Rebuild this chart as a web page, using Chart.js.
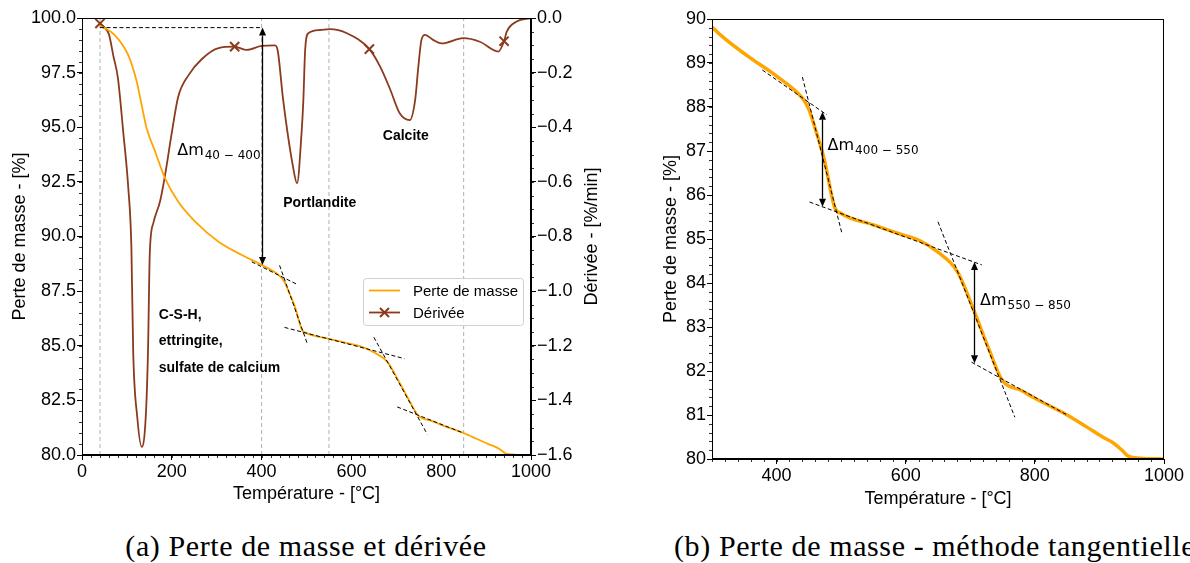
<!DOCTYPE html>
<html>
<head>
<meta charset="utf-8">
<script src="https://cdn.jsdelivr.net/npm/chart.js@4.4.1/dist/chart.umd.min.js"></script>
<style>
  html, body { margin: 0; padding: 0; background: #fff; }
  body { width: 1190px; height: 563px; overflow: hidden; position: relative; }
  #wrapA { position: absolute; left: 0; top: 0; width: 607px; height: 509px; }
  #wrapB { position: absolute; left: 640px; top: 0; width: 550px; height: 514px; }
  .cap { position: absolute; top: 530px; font-family: "Liberation Serif", "DejaVu Serif", serif;
         font-size: 30px; line-height: 32px; letter-spacing: 0.6px; white-space: nowrap; color: #000; }
</style>
</head>
<body>
<div id="wrapA"><canvas id="chartA"></canvas></div>
<div id="wrapB"><canvas id="chartB"></canvas></div>
<div class="cap" style="left:0;width:612px;text-align:center">(a) Perte de masse et dérivée</div>
<div class="cap" style="left:674px">(b) Perte de masse - méthode tangentielle</div>

<script>
// Perte de masse (ATG)
const massT = [40, 73, 103, 122, 133, 144, 163, 185, 214, 252, 304, 356, 400, 440, 450, 460, 474, 490,
  500, 550, 590, 622, 650, 680, 707, 730, 749, 780, 800, 850, 880, 905, 921, 935, 943, 963, 1000];
const massVal = [99.65, 99.22, 98.3, 97.08, 96.0, 94.95, 93.88, 92.66, 91.6, 90.68, 89.76, 89.15, 88.7,
  88.2, 87.95, 87.5, 86.8, 85.72, 85.58, 85.32, 85.12, 84.96, 84.7, 84.26, 83.32, 82.45, 81.8, 81.55,
  81.38, 81.0, 80.73, 80.5, 80.37, 80.2, 80.08, 80.02, 80.0];

// Dérivée (DTG) en %/min
const derivT = [40, 50, 60, 70, 80, 92, 103, 110, 114, 123, 133, 142, 147, 151, 159, 174, 185, 200, 214,
  237, 267, 304, 340, 367, 400, 430, 436, 448, 470, 479, 489, 493, 497, 504, 530, 552, 590, 640, 664,
  686, 708, 730, 742, 749, 756, 764, 782, 801, 849, 886, 927, 940, 946, 968, 1000];
const derivVal = [-0.02, -0.035, -0.06, -0.14, -0.22, -0.42, -0.62, -0.84, -1.22, -1.46, -1.57, -1.46,
  -1.22, -0.86, -0.75, -0.67, -0.575, -0.42, -0.29, -0.21, -0.15, -0.11, -0.105, -0.117, -0.102, -0.1,
  -0.12, -0.3, -0.545, -0.605, -0.42, -0.3, -0.117, -0.056, -0.044, -0.041, -0.056, -0.114, -0.178,
  -0.26, -0.35, -0.374, -0.3, -0.18, -0.08, -0.062, -0.08, -0.093, -0.074, -0.087, -0.123, -0.085,
  -0.05, -0.013, 0];
const derivMarkT = [40, 340, 640, 940];

// tangentes (début / fin)
const tangentT = [[378, 478], [440, 501], [451, 718], [650, 769], [702, 850]];
const tangentVal = [[88.84, 87.82], [88.68, 85.14], [85.84, 84.41], [85.39, 80.95], [82.2, 81.0]];

// bornes des paliers de température
const stepT = [40, 400, 550, 850];
const plateauVal = 99.56;
const deltaA = { t: 400, top: 99.56, bottom: 88.7, text: "40 \u2212 400" };
// flèches (b) : tangente haute / tangente basse
const deltaB = [
  { t: 471, upper: 0, lower: 2, text: "400 \u2212 550" },
  { t: 705, upper: 2, lower: 4, text: "550 \u2212 850" },
];

const FONT = '"Liberation Sans", Arial, Helvetica, sans-serif';
const ORANGE = "#ffa500";
const BROWN = "#8b3a1e";

function pts(xs, ys) {
  return xs.map((x, i) => ({ x, y: ys[i] }));
}

function tangentAt(i, t) {
  const [t0, t1] = tangentT[i];
  const [v0, v1] = tangentVal[i];
  return v0 + (v1 - v0) * (t - t0) / (t1 - t0);
}

function fmtMinus(v, d) {
  if (Math.abs(v) < 1e-9) return (0).toFixed(d);
  return (v < 0 ? "\u2212" : "") + Math.abs(v).toFixed(d);
}

function linScale(o) {
  return {
    type: "linear",
    position: o.position,
    min: o.min,
    max: o.max,
    afterFit: o.afterFit,
    afterBuildTicks: o.afterBuildTicks,
    border: { display: true, color: "#000", width: 1 },
    grid: { drawOnChartArea: false, drawTicks: true, tickLength: 5, tickColor: "#000", tickWidth: 1 },
    ticks: {
      stepSize: o.step, color: "#000", font: { family: FONT, size: 18 }, padding: 1,
      autoSkip: false, maxRotation: 0, callback: o.fmt,
    },
    title: { display: !!o.title, text: o.title || "", color: "#000", font: { family: FONT, size: 18 } },
  };
}

function tangentSets(yAxisID) {
  return tangentT.map((t, i) => ({
    data: pts(t, tangentVal[i]),
    borderColor: "#000", borderWidth: 1, borderDash: [4, 2.5],
    pointRadius: 0, yAxisID, order: 0,
  }));
}

function drawMinor(chart, id, step) {
  const s = chart.scales[id];
  const a = chart.chartArea;
  const ctx = chart.ctx;
  const n = Math.round((s.max - s.min) / step);
  ctx.save();
  ctx.strokeStyle = "#000";
  ctx.lineWidth = 0.8;
  ctx.beginPath();
  for (let i = 0; i <= n; i++) {
    const p = Math.round(s.getPixelForValue(s.min + i * step)) + 0.5;
    if (s.isHorizontal()) { ctx.moveTo(p, a.bottom); ctx.lineTo(p, a.bottom + 3); }
    else if (s.position === "left") { ctx.moveTo(a.left, p); ctx.lineTo(a.left - 3, p); }
    else { ctx.moveTo(a.right, p); ctx.lineTo(a.right + 3, p); }
  }
  ctx.stroke();
  ctx.restore();
}

function drawFrame(chart) {
  const a = chart.chartArea;
  const ctx = chart.ctx;
  ctx.save();
  ctx.strokeStyle = "#000";
  ctx.lineWidth = 1;
  ctx.strokeRect(Math.round(a.left) + 0.5, Math.round(a.top) + 0.5,
    Math.round(a.right - a.left) - 1, Math.round(a.bottom - a.top) - 1);
  ctx.restore();
}

function drawVArrow(ctx, x, y1, y2) {
  const h = 8, w = 3.5;
  ctx.save();
  ctx.strokeStyle = "#000";
  ctx.fillStyle = "#000";
  ctx.lineWidth = 1.3;
  ctx.beginPath(); ctx.moveTo(x, y1 + h); ctx.lineTo(x, y2 - h); ctx.stroke();
  ctx.beginPath(); ctx.moveTo(x, y1); ctx.lineTo(x - w, y1 + h); ctx.lineTo(x + w, y1 + h); ctx.closePath(); ctx.fill();
  ctx.beginPath(); ctx.moveTo(x, y2); ctx.lineTo(x - w, y2 - h); ctx.lineTo(x + w, y2 - h); ctx.closePath(); ctx.fill();
  ctx.restore();
}

function drawDelta(ctx, x, y, sub) {
  ctx.save();
  ctx.fillStyle = "#000";
  ctx.textAlign = "left";
  ctx.textBaseline = "alphabetic";
  ctx.font = '16px "DejaVu Sans", sans-serif';
  ctx.fillText("\u0394m", x, y);
  const w = ctx.measureText("\u0394m").width;
  ctx.font = '12px "DejaVu Sans", sans-serif';
  ctx.fillText(sub, x + w + 1, y + 4);
  ctx.restore();
}

const phaseLabels = [
  { text: "Portlandite", t: 448, v: 91.53 },
  { text: "Calcite", t: 670, v: 94.6 },
  { text: "C-S-H,", t: 171, v: 86.41 },
  { text: "ettringite,", t: 171, v: 85.23 },
  { text: "sulfate de calcium", t: 171, v: 83.97 },
];

const decorA = {
  id: "decorA",
  afterDatasetsDraw(chart) {
    const ctx = chart.ctx;
    const x = chart.scales.x, y = chart.scales.y;
    drawVArrow(ctx, Math.round(x.getPixelForValue(deltaA.t)) + 0.5,
      y.getPixelForValue(deltaA.top), y.getPixelForValue(deltaA.bottom));
    drawDelta(ctx, x.getPixelForValue(212), y.getPixelForValue(93.73), deltaA.text);
    ctx.save();
    ctx.fillStyle = "#000";
    ctx.font = "bold 14px " + FONT;
    ctx.textAlign = "left";
    ctx.textBaseline = "middle";
    phaseLabels.forEach((l) => ctx.fillText(l.text, x.getPixelForValue(l.t), y.getPixelForValue(l.v)));
    ctx.restore();
  },
  afterDraw(chart) {
    drawMinor(chart, "x", 20);
    drawMinor(chart, "y", 0.5);
    drawMinor(chart, "y2", 0.05);
    drawFrame(chart);
    const a = chart.chartArea;
    const ctx = chart.ctx;
    // titre de l'axe de droite, lu de bas en haut
    ctx.save();
    ctx.translate(chart.scales.y2.right - 14.8, (a.top + a.bottom) / 2);
    ctx.rotate(-Math.PI / 2);
    ctx.fillStyle = "#000";
    ctx.font = "18px " + FONT;
    ctx.textAlign = "center";
    ctx.textBaseline = "middle";
    ctx.fillText("Dérivée - [%/min]", 0, 0);
    ctx.restore();
    // légende
    const bx = a.right - 168, by = a.top + 260, bw = 160, bh = 47;
    ctx.save();
    ctx.fillStyle = "rgba(255,255,255,0.85)";
    ctx.strokeStyle = "#d0d0d0";
    ctx.lineWidth = 1;
    ctx.beginPath();
    ctx.roundRect(bx + 0.5, by + 0.5, bw, bh, 3);
    ctx.fill();
    ctx.stroke();
    const rows = [
      { label: "Perte de masse", color: ORANGE, mark: false },
      { label: "Dérivée", color: BROWN, mark: true },
    ];
    rows.forEach((r, i) => {
      const ry = by + 12.5 + i * 22;
      ctx.strokeStyle = r.color;
      ctx.lineWidth = 1.8;
      ctx.beginPath(); ctx.moveTo(bx + 6, ry); ctx.lineTo(bx + 37, ry); ctx.stroke();
      if (r.mark) {
        const cx = bx + 21.5;
        ctx.lineWidth = 2;
        ctx.beginPath();
        ctx.moveTo(cx - 4.5, ry - 4.5); ctx.lineTo(cx + 4.5, ry + 4.5);
        ctx.moveTo(cx - 4.5, ry + 4.5); ctx.lineTo(cx + 4.5, ry - 4.5);
        ctx.stroke();
      }
      ctx.fillStyle = "#000";
      ctx.font = "15px " + FONT;
      ctx.textAlign = "left";
      ctx.textBaseline = "middle";
      ctx.fillText(r.label, bx + 50, ry + 1);
    });
    ctx.restore();
  },
};

const decorB = {
  id: "decorB",
  afterDatasetsDraw(chart) {
    const ctx = chart.ctx;
    const x = chart.scales.x, y = chart.scales.y;
    deltaB.forEach((d) => {
      drawVArrow(ctx, Math.round(x.getPixelForValue(d.t)) + 0.5,
        y.getPixelForValue(tangentAt(d.upper, d.t)), y.getPixelForValue(tangentAt(d.lower, d.t)));
    });
    drawDelta(ctx, x.getPixelForValue(479), y.getPixelForValue(87.02), deltaB[0].text);
    drawDelta(ctx, x.getPixelForValue(715), y.getPixelForValue(83.5), deltaB[1].text);
  },
  afterDraw(chart) {
    drawMinor(chart, "x", 20);
    drawMinor(chart, "y", 0.2);
    drawFrame(chart);
  },
};

const commonOpts = {
  responsive: true,
  maintainAspectRatio: false,
  animation: false,
  events: [],
  plugins: { legend: { display: false }, tooltip: { enabled: false } },
};

new Chart(document.getElementById("chartA"), {
  type: "line",
  data: {
    datasets: [
      ...tangentSets("y"),
      {
        label: "Perte de masse", data: pts(massT, massVal), borderColor: ORANGE, borderWidth: 1.8,
        pointRadius: 0, cubicInterpolationMode: "monotone", yAxisID: "y", order: 1,
      },
      {
        label: "Dérivée", data: pts(derivT, derivVal), borderColor: BROWN, borderWidth: 1.8,
        pointStyle: "crossRot",
        pointRadius: (c) => (c.type === "data" && derivMarkT.includes(c.raw.x) ? 6.5 : 0),
        pointBorderColor: BROWN, pointBackgroundColor: BROWN, pointBorderWidth: 2,
        cubicInterpolationMode: "monotone", yAxisID: "y2", order: 2,
      },
      ...stepT.map((t) => ({
        data: [{ x: t, y: 80 }, { x: t, y: 100 }], borderColor: "#b0b0b0", borderWidth: 1,
        borderDash: [4, 3], pointRadius: 0, yAxisID: "y", order: 5,
      })),
      {
        data: [{ x: stepT[0], y: plateauVal }, { x: deltaA.t, y: plateauVal }], borderColor: "#000",
        borderWidth: 1, borderDash: [4, 2.5], pointRadius: 0, yAxisID: "y", order: 0,
      },
    ],
  },
  options: {
    ...commonOpts,
    layout: { padding: { left: 5, top: 18, right: 0, bottom: 0 } },
    scales: {
      x: linScale({
        position: "bottom", min: 0, max: 1000, step: 200, title: "Température - [°C]",
        afterFit: (s) => { s.height = 54; },
      }),
      y: linScale({
        position: "left", min: 80, max: 100, step: 2.5, title: "Perte de masse - [%]",
        fmt: (v) => Number(v).toFixed(1), afterFit: (s) => { s.width = 77; },
      }),
      y2: linScale({
        position: "right", min: -1.6, max: 0, step: 0.2,
        fmt: (v) => fmtMinus(Number(v), 1), afterFit: (s) => { s.width = 76; },
      }),
    },
  },
  plugins: [decorA],
});

new Chart(document.getElementById("chartB"), {
  type: "line",
  data: {
    datasets: [
      ...tangentSets("y"),
      {
        label: "Perte de masse", data: pts(massT, massVal), borderColor: ORANGE, borderWidth: 3.5,
        pointRadius: 0, cubicInterpolationMode: "monotone", yAxisID: "y", order: 1,
      },
    ],
  },
  options: {
    ...commonOpts,
    layout: { padding: { left: 16, top: 19, right: 26, bottom: 0 } },
    scales: {
      x: linScale({
        position: "bottom", min: 300, max: 1000, step: 200, title: "Température - [°C]",
        afterFit: (s) => { s.height = 55; },
        afterBuildTicks: (s) => { s.ticks = [400, 600, 800, 1000].map((v) => ({ value: v })); },
      }),
      y: linScale({
        position: "left", min: 80, max: 90, step: 1, title: "Perte de masse - [%]",
        afterFit: (s) => { s.width = 56; },
      }),
    },
  },
  plugins: [decorB],
});
</script>
</body>
</html>
